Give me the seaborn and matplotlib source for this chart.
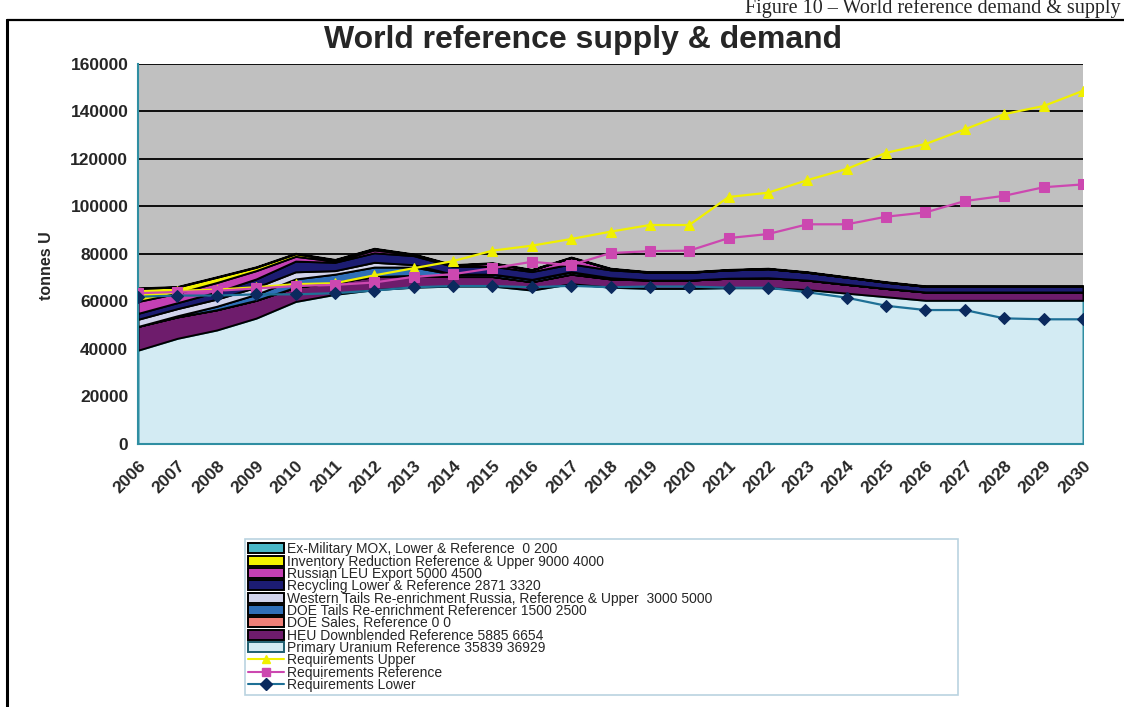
import matplotlib
matplotlib.use('Agg')
import matplotlib.pyplot as plt
import matplotlib.lines as mlines
import matplotlib.patches as mpatches
import seaborn as sns
import pandas as pd

# Dados (tonnes U)
years = list(range(2006, 2031))

primary_uranium = [39500, 44500, 48000, 53000, 60000, 63000, 65000, 66000, 66500, 66500,
                   64800, 67500, 66000, 65500, 65500, 65800, 65800, 65000, 63500, 62000,
                   60500, 60500, 60500, 60500, 60500]
heu_downblended = [10000, 9000, 8500, 7500, 6000, 5000, 5500, 5000, 4000, 4000,
                   3500, 4000, 3500, 3500, 3500, 4000, 4200, 4000, 3700, 3500,
                   3500, 3500, 3500, 3500, 3500]
doe_sales = [0] * 25
doe_tails = [0, 500, 1500, 2500, 3500, 3500, 4000, 3500, 1000, 1000,
             1000, 1000, 500, 0, 0, 0, 0, 0, 0, 0,
             0, 0, 0, 0, 0]
western_tails = [3000, 3000, 3000, 3000, 3000, 1500, 2000, 1000, 0, 0,
                 0, 0, 0, 0, 0, 0, 0, 0, 0, 0,
                 0, 0, 0, 0, 0]
recycling = [2500, 2500, 3000, 3500, 4500, 3500, 4000, 3800, 3300, 3300,
             3300, 3300, 3300, 3300, 3300, 3500, 3800, 3300, 3000, 2600,
             2400, 2400, 2400, 2400, 2400]
russian_leu = [5000, 4000, 4000, 3500, 2000, 500, 1200, 500, 500, 1300,
               700, 2700, 500, 0, 0, 0, 0, 0, 0, 0,
               0, 0, 0, 0, 0]
inventory_reduction = [5500, 2600, 2200, 1400, 1100, 500, 500, 0, 0, 0,
                       0, 0, 0, 0, 0, 0, 0, 0, 0, 0,
                       0, 0, 0, 0, 0]
ex_military_mox = [200] * 25

req_upper = [63000, 64500, 65000, 66000, 67300, 67700, 71000, 74000, 77000, 81400,
             83500, 86300, 89400, 92200, 92200, 104000, 105800, 111100, 115800, 122600,
             126300, 132500, 138900, 142300, 148700]
req_reference = [63500, 64000, 64500, 65500, 66500, 67000, 68000, 70400, 71500, 74000,
                 76700, 75300, 80400, 81200, 81400, 86700, 88400, 92500, 92500, 95700,
                 97500, 102300, 104500, 108100, 109300]
req_lower = [62000, 62500, 62500, 63000, 63000, 63500, 64600, 66000, 66500, 66500,
             66000, 66600, 66000, 66300, 66300, 65800, 65800, 63900, 61600, 58200,
             56400, 56400, 52900, 52500, 52500]

# Séries empilhadas (de baixo para cima)
stack_labels = ['Primary Uranium Reference 35839 36929',
                'HEU Downblended Reference 5885 6654',
                'DOE Sales, Reference 0 0',
                'DOE Tails Re-enrichment Referencer 1500 2500',
                'Western Tails Re-enrichment Russia, Reference & Upper  3000 5000',
                'Recycling Lower & Reference 2871 3320',
                'Russian LEU Export 5000 4500',
                'Inventory Reduction Reference & Upper 9000 4000',
                'Ex-Military MOX, Lower & Reference  0 200']
stack_values = [primary_uranium, heu_downblended, doe_sales, doe_tails, western_tails,
                recycling, russian_leu, inventory_reduction, ex_military_mox]
stack_colors = ['#d3ebf3', '#6e1c6c', '#f08078', '#2f6fb8', '#d2d4ec',
                '#1c1c72', '#c440b4', '#f2f200', '#4ab8c8']
stack_edges = ['#2f8ea2'] + ['black'] * 8

req_df = pd.DataFrame({
    'year': years * 3,
    'valor': req_upper + req_reference + req_lower,
    'serie': ['Requirements Upper'] * 25 + ['Requirements Reference'] * 25
             + ['Requirements Lower'] * 25,
})

sns.set_style('white')
plt.rcParams['font.family'] = ['Liberation Sans', 'DejaVu Sans']

fig = plt.figure(figsize=(11.24, 7.07), dpi=100)
ax = fig.add_axes([0.1228, 0.372, 0.8407, 0.5375])
ax.set_facecolor('#c0c0c0')

# moldura do gráfico
fig.add_artist(mlines.Line2D([0.0065, 0.0065], [0, 0.972], color='black', lw=2.2))
fig.add_artist(mlines.Line2D([0.0065, 1.0], [0.972, 0.972], color='black', lw=1.6))
fig.text(0.997, 0.974, 'Figure 10 \u2013 World reference demand & supply',
         family=['Liberation Serif', 'DejaVu Serif'], fontsize=14.5, ha='right', va='bottom')

polys = ax.stackplot(years, *stack_values, colors=stack_colors, zorder=2)
for p, ec in zip(polys, stack_edges):
    p.set_edgecolor(ec)
    p.set_linewidth(1.4)

palette = {'Requirements Upper': '#f0f000',
           'Requirements Reference': '#cc48b0',
           'Requirements Lower': '#1e7096'}
markers = {'Requirements Upper': '^',
           'Requirements Reference': 's',
           'Requirements Lower': 'D'}
sns.lineplot(data=req_df, x='year', y='valor', hue='serie', style='serie',
             palette=palette, markers=markers, dashes=False, markersize=7,
             linewidth=1.6, ax=ax, legend=False, zorder=5)
# marcadores da linha inferior em azul escuro
for ln in ax.lines:
    if ln.get_color() == '#1e7096':
        ln.set_markerfacecolor('#0b2a5e')
        ln.set_markeredgecolor('#0b2a5e')
        ln.set_markersize(6)
    else:
        ln.set_markeredgecolor(ln.get_color())

ax.set_xlim(2006, 2030)
ax.set_ylim(0, 160000)
ax.set_yticks(range(0, 160001, 20000))
ax.set_yticklabels([str(v) for v in range(0, 160001, 20000)], fontsize=12.5, fontweight='bold')
ax.set_xticks(years)
ax.set_xticklabels([str(y) for y in years], rotation=45, ha='right',
                   rotation_mode='anchor', fontsize=12.5, fontweight='bold')
ax.tick_params(axis='both', length=4, color='#2f8ea2', direction='out', pad=3)
ax.tick_params(axis='x', pad=6)
ax.yaxis.grid(True, color='black', lw=1.3)
ax.set_axisbelow(True)
for s in ['top', 'right']:
    ax.spines[s].set_visible(False)
for s in ['left', 'bottom']:
    ax.spines[s].set_color('#2f8ea2')
    ax.spines[s].set_linewidth(1.5)
ax.set_xlabel('')
ax.set_ylabel('tonnes U', fontsize=11.5, fontweight='bold')
ax.yaxis.set_label_coords(-0.089, 0.47)

fig.text(0.519, 0.944, 'World reference supply & demand', ha='center', va='center',
         fontsize=23, fontweight='bold')

# legenda
handles = []
labels = []
for lab, col, ec in list(zip(stack_labels, stack_colors, stack_edges))[::-1]:
    handles.append(mpatches.Patch(facecolor=col, edgecolor='black' if ec == 'black' else '#1f5f70', lw=1.4))
    labels.append(lab)
for name in ['Requirements Upper', 'Requirements Reference', 'Requirements Lower']:
    mfc = '#0b2a5e' if name == 'Requirements Lower' else palette[name]
    handles.append(mlines.Line2D([], [], color=palette[name], marker=markers[name],
                                 markerfacecolor=mfc, markeredgecolor=mfc, markersize=6, lw=1.5))
    labels.append(name)
leg = fig.legend(handles, labels, loc='upper left', bbox_to_anchor=(0.218, 0.024, 0.634, 0.213),
                 mode='expand', fontsize=10, frameon=True, fancybox=False,
                 labelspacing=-0.12, handlelength=2.6, handleheight=0.7, handletextpad=0.25,
                 borderpad=0.2, borderaxespad=0)
leg.get_frame().set_edgecolor('#a8c8d8')
leg.get_frame().set_linewidth(1.2)

plt.savefig('out.png', dpi=100)
